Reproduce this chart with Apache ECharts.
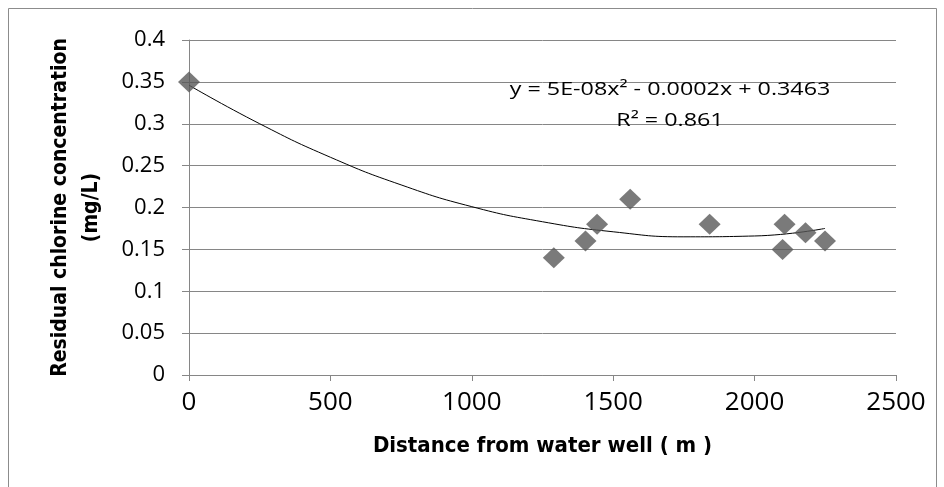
<!DOCTYPE html>
<html><head><meta charset="utf-8">
<script src="https://cdn.jsdelivr.net/npm/echarts@6/dist/echarts.min.js"></script>
<style>html,body{margin:0;padding:0;background:#fff}#c{width:944px;height:487px}</style>
</head><body><div id="c"></div>
<script>
const distances = [0, 1290, 1402, 1443, 1560, 1841, 2099, 2106, 2180, 2249];
const chlorine  = [0.35, 0.14, 0.16, 0.18, 0.21, 0.18, 0.15, 0.18, 0.17, 0.16];
// polynomial trendline, points
const trendX = [0, 250, 500, 750, 1000, 1250, 1500, 1750, 2000, 2249];
const trendY = [0.346, 0.300, 0.260, 0.227, 0.201, 0.183, 0.171, 0.165, 0.166, 0.175];
const xTicks = [0, 500, 1000, 1500, 2000, 2500];
const yTicks = [0, 0.05, 0.1, 0.15, 0.2, 0.25, 0.3, 0.35, 0.4];
const equationText = 'y = 5E-08x² - 0.0002x + 0.3463';
const r2Text = 'R² = 0.861';
const xTitle = 'Distance from water well ( m )';
const yTitle = 'Residual chlorine concentration\n(mg/L)';

const LABEL_FONT = '"Open Sans", sans-serif';
const TITLE_FONT = '"DejaVu Sans Condensed", sans-serif';
const chart = echarts.init(document.getElementById('c'));
chart.setOption({
  animation: false,
  backgroundColor: '#fff',
  grid: {left: 189, right: 48, top: 40, bottom: 112},
  xAxis: {
    type: 'value', min: xTicks[0], max: xTicks[xTicks.length - 1], interval: xTicks[1] - xTicks[0],
    name: xTitle, nameLocation: 'middle', nameGap: 60,
    nameTextStyle: {fontFamily: TITLE_FONT, fontWeight: 'bold', fontSize: 22, color: '#000'},
    axisLine: {show: true, lineStyle: {color: '#868686'}},
    axisTick: {show: true, length: 6, lineStyle: {color: '#868686'}},
    axisLabel: {fontFamily: LABEL_FONT, fontSize: 26, color: '#000', margin: 15, formatter: v => String(v)},
    splitLine: {show: false}
  },
  yAxis: {
    type: 'value', min: yTicks[0], max: yTicks[yTicks.length - 1], interval: 0.05,
    name: yTitle, nameLocation: 'middle', nameGap: 82, nameRotate: 90,
    nameTextStyle: {fontFamily: TITLE_FONT, fontWeight: 'bold', fontSize: 21, color: '#000', lineHeight: 31},
    axisLine: {show: true, lineStyle: {color: '#868686'}},
    axisTick: {show: true, length: 7, lineStyle: {color: '#868686'}},
    axisLabel: {fontFamily: LABEL_FONT, fontSize: 22, color: '#000', margin: 24, formatter: v => String(+v.toFixed(2))},
    splitLine: {show: true, lineStyle: {color: '#868686', width: 1}}
  },
  series: [
    {
      type: 'line', data: trendX.map((x, i) => [x, trendY[i]]),
      smooth: true, symbol: 'none', lineStyle: {color: '#000', width: 1}, z: 3
    },
    {
      type: 'scatter', data: distances.map((x, i) => [x, chlorine[i]]),
      symbol: 'diamond', symbolSize: [22, 21],
      itemStyle: {color: '#595959'}, z: 4
    }
  ],
  graphic: [
    {type: 'rect', shape: {x: 8.5, y: 8.5, width: 928, height: 490}, style: {fill: 'none', stroke: '#8c8c8c', lineWidth: 1}, z: 0, silent: true},
    {type: 'text', x: 670, y: 90, scaleX: 1.26, style: {x: 0, y: 0, text: equationText, font: '18.5px ' + LABEL_FONT, fill: '#000', textAlign: 'center', textVerticalAlign: 'middle'}, z: 10},
    {type: 'text', x: 670, y: 121, scaleX: 1.26, style: {x: 0, y: 0, text: r2Text, font: '18.5px ' + LABEL_FONT, fill: '#000', textAlign: 'center', textVerticalAlign: 'middle'}, z: 10}
  ]
});
</script></body></html>
